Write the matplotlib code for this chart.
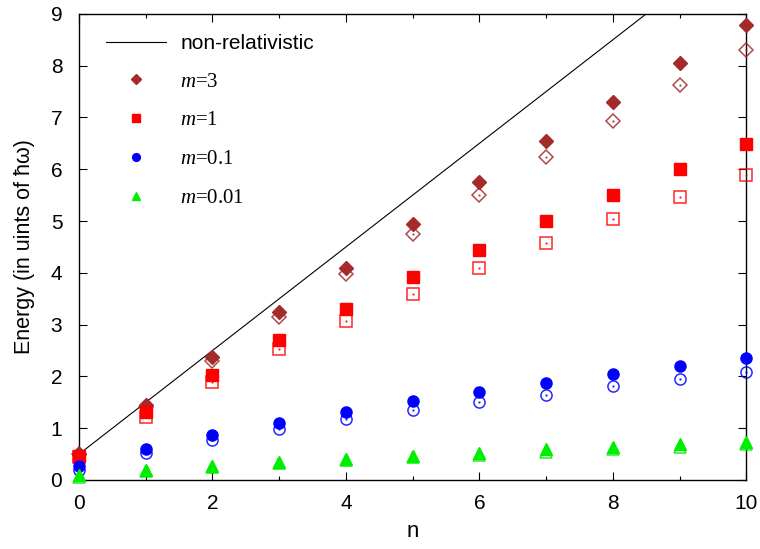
import matplotlib
matplotlib.use("Agg")
import matplotlib.pyplot as plt
from matplotlib.ticker import MultipleLocator
import numpy as np

n = list(range(11))
m3_filled = [0.50, 1.45, 2.37, 3.25, 4.10, 4.95, 5.75, 6.55, 7.30, 8.06, 8.79]
m3_open   = [0.50, 1.40, 2.30, 3.15, 3.97, 4.75, 5.50, 6.23, 6.94, 7.63, 8.30]
m1_filled = [0.47, 1.32, 2.03, 2.70, 3.30, 3.92, 4.45, 5.00, 5.50, 6.00, 6.48]
m1_open   = [0.45, 1.22, 1.90, 2.52, 3.07, 3.60, 4.10, 4.57, 5.03, 5.47, 5.89]
m01_filled = [0.27, 0.60, 0.87, 1.10, 1.32, 1.52, 1.70, 1.87, 2.04, 2.20, 2.36]
m01_open   = [0.20, 0.53, 0.77, 0.98, 1.17, 1.35, 1.50, 1.65, 1.81, 1.95, 2.09]
m001_filled = [0.10, 0.19, 0.27, 0.34, 0.41, 0.47, 0.53, 0.59, 0.64, 0.69, 0.74]
m001_open   = [0.05, 0.17, 0.25, 0.32, 0.38, 0.44, 0.49, 0.54, 0.59, 0.64, 0.69]
labels = ["$m$=3", "$m$=1", "$m$=0.1", "$m$=0.01"]

plt.rcParams['font.family'] = ['Liberation Sans', 'DejaVu Sans']
plt.rcParams['mathtext.fontset'] = 'custom'
plt.rcParams['mathtext.it'] = 'Liberation Serif:italic'
plt.rcParams['mathtext.rm'] = 'Liberation Serif'

fig = plt.figure(figsize=(7.6, 5.49), dpi=100)
ax = fig.add_axes([0.104, 0.1257, 0.878, 0.849])

# non-relativistic line
nl = np.array([0, 10])
ax.plot(nl, nl + 0.5, color='black', lw=0.8, label='non-relativistic', zorder=2)

series = [
    (m3_filled, m3_open, 'D', '#a52a2a', 7.0),
    (m1_filled, m1_open, 's', '#ff0000', 8.0),
    (m01_filled, m01_open, 'o', '#0000ff', 8.0),
    (m001_filled, m001_open, '^', '#00ee00', 8.0),
]
for (f, o, mk, c, ms), lab in zip(series, labels):
    ax.plot(n, o, linestyle='none', marker=mk, markersize=ms, markerfacecolor='none',
            markeredgecolor=c, markeredgewidth=1.1, alpha=0.85, clip_on=False, zorder=3)
    ax.plot(n, o, linestyle='none', marker='.', markersize=1.5, color=c, alpha=0.7,
            clip_on=False, zorder=3)
    ax.plot(n, f, linestyle='none', marker=mk, markersize=ms, color=c, label=lab,
            clip_on=False, zorder=4)

ax.set_xlim(0, 10)
ax.set_ylim(0, 9)
ax.xaxis.set_major_locator(MultipleLocator(2))
ax.xaxis.set_minor_locator(MultipleLocator(1))
ax.yaxis.set_major_locator(MultipleLocator(1))
ax.tick_params(which='both', direction='in', top=True, right=True, labelsize=15)
ax.tick_params(axis='x', pad=10)
ax.tick_params(axis='y', pad=12)
ax.tick_params(which='major', length=6, width=0.8)
ax.tick_params(which='minor', length=3, width=0.8)
for s in ax.spines.values():
    s.set_linewidth(1.0)

ax.set_xlabel('n', fontsize=16, labelpad=6)
ax.set_ylabel('Energy (in uints of ħω)', fontsize=15.5, labelpad=11)

leg = ax.legend(loc='upper left', frameon=False, fontsize=15, labelspacing=0.92,
                handlelength=2.9, handletextpad=0.67, borderaxespad=0.0,
                bbox_to_anchor=(0.028, 0.975), numpoints=1, markerscale=0.7)
for t in leg.get_texts()[1:]:
    t.set_fontfamily('Liberation Serif')

fig.savefig('out.png', dpi=100)
